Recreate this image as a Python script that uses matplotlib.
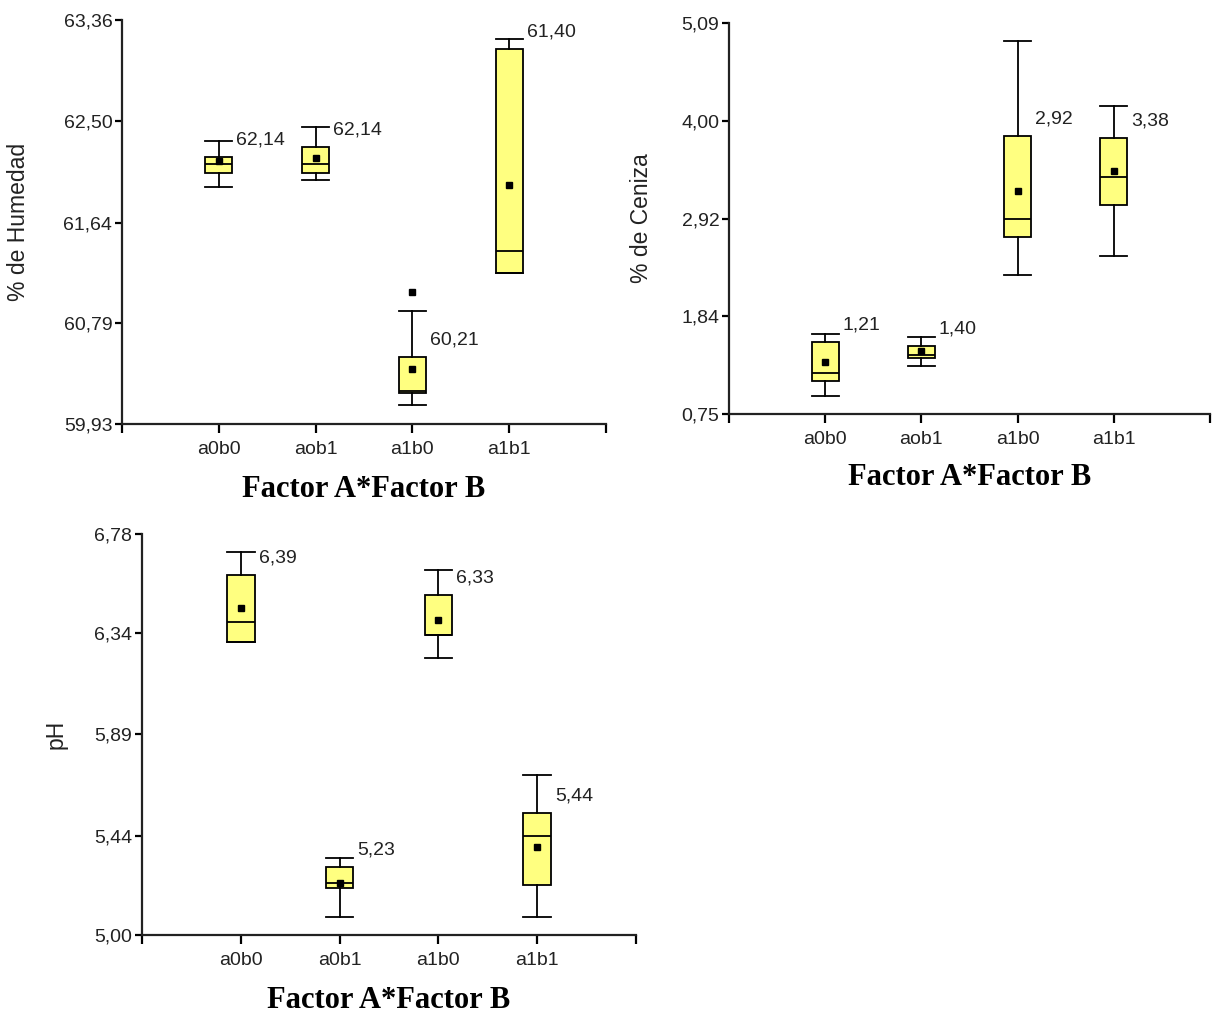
import matplotlib
matplotlib.use("Agg")
import matplotlib.pyplot as plt

# Estadisticos (Factor A * Factor B)
groups_top = ["a0b0", "aob1", "a1b0", "a1b1"]
groups_ph = ["a0b0", "a0b1", "a1b0", "a1b1"]

# % de Humedad
hum_whishi = [62.33, 62.45, 60.89, 63.20]
hum_q3 = [62.20, 62.28, 60.50, 63.11]
hum_med = [62.14, 62.14, 60.21, 61.40]
hum_q1 = [62.06, 62.06, 60.19, 61.21]
hum_whislo = [61.94, 62.00, 60.09, 61.21]
hum_mean = [62.16, 62.19, 60.40, 61.96]
hum_fliers = [[], [], [61.05], []]
hum_ticks = [59.93, 60.79, 61.64, 62.50, 63.36]

# % de Ceniza
cen_whishi = [1.64, 1.61, 4.89, 4.17]
cen_q3 = [1.55, 1.50, 3.84, 3.81]
cen_med = [1.21, 1.40, 2.92, 3.38]
cen_q1 = [1.12, 1.37, 2.71, 3.07]
cen_whislo = [0.95, 1.28, 2.29, 2.50]
cen_mean = [1.33, 1.45, 3.23, 3.45]
cen_fliers = [[], [], [], []]
cen_ticks = [0.75, 1.84, 2.92, 4.00, 5.09]

# pH
ph_whishi = [6.70, 5.34, 6.62, 5.71]
ph_q3 = [6.60, 5.30, 6.51, 5.54]
ph_med = [6.39, 5.23, 6.33, 5.44]
ph_q1 = [6.30, 5.21, 6.33, 5.22]
ph_whislo = [6.30, 5.08, 6.23, 5.08]
ph_mean = [6.45, 5.23, 6.40, 5.39]
ph_fliers = [[], [], [], []]
ph_ticks = [5.00, 5.44, 5.89, 6.34, 6.78]

YELLOW = "#FFFF80"
TEXT = "#222222"
plt.rcParams["font.family"] = ["Liberation Sans", "DejaVu Sans"]


def box_panel(ax, names, whislo, q1, med, q3, whishi, mean, fliers, ticks, ylabel, ylabel_x):
    stats = []
    for i in range(len(names)):
        stats.append({"whislo": whislo[i], "q1": q1[i], "med": med[i], "q3": q3[i],
                      "whishi": whishi[i], "mean": mean[i], "fliers": fliers[i]})
    pos = list(range(1, len(names) + 1))
    w = 0.28
    ax.bxp(stats, positions=pos, widths=w, patch_artist=True, showmeans=True,
           boxprops=dict(facecolor=YELLOW, edgecolor="black", linewidth=1.3),
           medianprops=dict(color="black", linewidth=1.3),
           whiskerprops=dict(color="black", linewidth=1.3),
           capprops=dict(color="black", linewidth=1.3), capwidths=w,
           meanprops=dict(marker="s", markerfacecolor="black", markeredgecolor="black", markersize=5),
           flierprops=dict(marker="s", markerfacecolor="black", markeredgecolor="black", markersize=5))

    # etiqueta con la mediana junto a cada caja
    for p, m, top in zip(pos, med, q3):
        ax.annotate(f"{m:.2f}".replace(".", ","), xy=(p + w / 2, top), xytext=(4, 17),
                    textcoords="offset pixels", ha="left", va="center", fontsize=14, color=TEXT)

    ax.set_xlim(0, len(names) + 1)
    ax.set_xticks([0] + pos + [len(names) + 1])
    ax.set_xticklabels([""] + names + [""])
    ax.set_ylim(ticks[0], ticks[-1])
    ax.set_yticks(ticks)
    ax.set_yticklabels([f"{t:.2f}".replace(".", ",") for t in ticks])
    ax.spines["top"].set_visible(False)
    ax.spines["right"].set_visible(False)
    for s in ["left", "bottom"]:
        ax.spines[s].set_linewidth(1.6)
        ax.spines[s].set_color("#222222")
    ax.tick_params(axis="y", length=5, width=1.6, pad=2, labelsize=14, labelcolor=TEXT)
    ax.tick_params(axis="x", length=6.5, width=1.6, pad=6, labelsize=14, labelcolor=TEXT)
    ax.set_ylabel(ylabel, fontsize=16.5, color=TEXT)
    ax.yaxis.set_label_coords(ylabel_x, 0.5)
    ax.text(0.5, -0.163, "Factor A*Factor B", transform=ax.transAxes, ha="center", va="center",
            fontsize=22, fontweight="bold", family="Liberation Serif", color="black")


fig = plt.figure(figsize=(12.14, 10.14), dpi=100)
ax1 = fig.add_axes([0.1005, 0.5819, 0.3987, 0.3984])
ax2 = fig.add_axes([0.6005, 0.5917, 0.3962, 0.3856])
ax3 = fig.add_axes([0.1170, 0.0779, 0.4069, 0.3955])

box_panel(ax1, groups_top, hum_whislo, hum_q1, hum_med, hum_q3, hum_whishi, hum_mean,
          hum_fliers, hum_ticks, "% de Humedad", -0.19)
box_panel(ax2, groups_top, cen_whislo, cen_q1, cen_med, cen_q3, cen_whishi, cen_mean,
          cen_fliers, cen_ticks, "% de Ceniza", -0.158)
box_panel(ax3, groups_ph, ph_whislo, ph_q1, ph_med, ph_q3, ph_whishi, ph_mean,
          ph_fliers, ph_ticks, "pH", -0.15)

fig.savefig("out.png", dpi=100)
